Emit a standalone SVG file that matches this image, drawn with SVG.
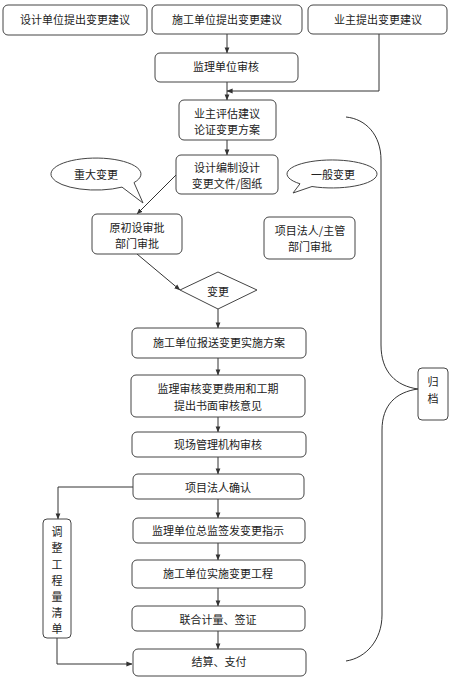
<svg xmlns="http://www.w3.org/2000/svg" width="451" height="680" viewBox="0 0 451 680">
<style>
.box{fill:#fff;stroke:#444;stroke-width:1}
.t{font-family:"Noto Sans CJK SC","Liberation Sans",sans-serif;font-size:11px;fill:#222;text-anchor:middle;dominant-baseline:central}
.ln{fill:none;stroke:#333;stroke-width:1}
</style>
<defs>
<marker id="ah" viewBox="0 0 8 8" refX="7.5" refY="4" markerWidth="6" markerHeight="6" orient="auto" markerUnits="userSpaceOnUse">
<path d="M0,0.8 L8,4 L0,7.2 z" fill="#333"/>
</marker>
</defs>
<rect width="451" height="680" fill="#fff"/>
<g id="connectors">
<line class="ln" x1="227" y1="34" x2="227" y2="53" marker-end="url(#ah)"/>
<polyline class="ln" points="379,34 379,91 227,91" marker-end="url(#ah)"/>
<line class="ln" x1="227" y1="82" x2="227" y2="100" marker-end="url(#ah)"/>
<line class="ln" x1="227" y1="140" x2="227" y2="155" marker-end="url(#ah)"/>
<line class="ln" x1="176" y1="175" x2="137" y2="214" marker-end="url(#ah)"/>
<line class="ln" x1="137" y1="254" x2="180" y2="290" marker-end="url(#ah)"/>
<line class="ln" x1="218" y1="309" x2="218" y2="328" marker-end="url(#ah)"/>
<line class="ln" x1="218" y1="358" x2="218" y2="375" marker-end="url(#ah)"/>
<line class="ln" x1="218" y1="417" x2="218" y2="432" marker-end="url(#ah)"/>
<line class="ln" x1="218" y1="457" x2="218" y2="474" marker-end="url(#ah)"/>
<line class="ln" x1="218" y1="499" x2="218" y2="518" marker-end="url(#ah)"/>
<line class="ln" x1="218" y1="543" x2="218" y2="560" marker-end="url(#ah)"/>
<line class="ln" x1="218" y1="588" x2="218" y2="606" marker-end="url(#ah)"/>
<line class="ln" x1="218" y1="631" x2="218" y2="649" marker-end="url(#ah)"/>
<polyline class="ln" points="133,487 58,487 58,519" marker-end="url(#ah)"/>
<polyline class="ln" points="57,638 57,664 132,664" marker-end="url(#ah)"/>
<path class="ln" d="M346,117 C366,119 381,135 381,160 L381,345 C381,372 396,386 418,389"/>
<path class="ln" d="M418,389 C396,392 382,405 382,430 L382,615 C382,640 366,658 346,661"/>
</g>
<g id="n1"><rect class="box" x="3" y="5" width="144" height="30" rx="5"/><text class="t" x="75" y="19">设计单位提出变更建议</text></g>
<g id="n2"><rect class="box" x="152" y="5" width="150" height="29" rx="5"/><text class="t" x="227" y="19">施工单位提出变更建议</text></g>
<g id="n3"><rect class="box" x="308" y="5" width="139" height="29" rx="5"/><text class="t" x="378" y="19">业主提出变更建议</text></g>
<g id="n4"><rect class="box" x="155" y="53" width="143" height="29" rx="5"/><text class="t" x="226" y="66">监理单位审核</text></g>
<g id="n5"><rect class="box" x="179" y="100" width="97" height="40" rx="5"/><text class="t" x="227" y="113">业主评估建议</text><text class="t" x="227" y="129">论证变更方案</text></g>
<g id="n6"><rect class="box" x="176" y="155" width="102" height="39" rx="5"/><text class="t" x="227" y="167">设计编制设计</text><text class="t" x="227" y="183">变更文件/图纸</text></g>
<g id="c1"><path class="box" d="M134,182.6 A45 16 0 1 0 122,187.1 L143,203 Z"/><text class="t" x="96" y="174">重大变更</text></g>
<g id="c2"><path class="box" d="M312,186.5 A45 14 0 1 0 300,183.8 L293,193 Z"/><text class="t" x="333" y="174">一般变更</text></g>
<g id="n7"><rect class="box" x="92" y="214" width="90" height="40" rx="5"/><text class="t" x="137" y="227">原初设审批</text><text class="t" x="137" y="243">部门审批</text></g>
<g id="n8"><rect class="box" x="264" y="217" width="91" height="42" rx="5"/><text class="t" x="310" y="230">项目法人/主管</text><text class="t" x="310" y="246">部门审批</text></g>
<g id="n9"><polygon class="box" points="180,290 218,272 257,290 218,309"/><text class="t" x="218" y="291">变更</text></g>
<g id="n10"><rect class="box" x="132" y="328" width="174" height="30" rx="5"/><text class="t" x="219" y="342">施工单位报送变更实施方案</text></g>
<g id="n11"><rect class="box" x="131" y="375" width="174" height="42" rx="5"/><text class="t" x="218" y="388">监理审核变更费用和工期</text><text class="t" x="218" y="405">提出书面审核意见</text></g>
<g id="n12"><rect class="box" x="132" y="432" width="174" height="25" rx="5"/><text class="t" x="218" y="444">现场管理机构审核</text></g>
<g id="n13"><rect class="box" x="133" y="474" width="171" height="25" rx="5"/><text class="t" x="218" y="487">项目法人确认</text></g>
<g id="n14"><rect class="box" x="133" y="518" width="172" height="25" rx="5"/><text class="t" x="218" y="530">监理单位总监签发变更指示</text></g>
<g id="n15"><rect class="box" x="132" y="560" width="173" height="28" rx="5"/><text class="t" x="218" y="573">施工单位实施变更工程</text></g>
<g id="n16"><rect class="box" x="132" y="606" width="173" height="25" rx="5"/><text class="t" x="218" y="619">联合计量、签证</text></g>
<g id="n17"><rect class="box" x="133" y="649" width="173" height="27" rx="5"/><text class="t" x="219" y="661">结算、支付</text></g>
<g id="n18"><rect class="box" x="43" y="519" width="28" height="119" rx="4"/>
<text class="t" x="57" y="531">调</text><text class="t" x="57" y="547">整</text><text class="t" x="57" y="564">工</text><text class="t" x="57" y="580">程</text><text class="t" x="57" y="596">量</text><text class="t" x="57" y="612">清</text><text class="t" x="57" y="628">单</text></g>
<g id="n19"><rect class="box" x="418" y="368" width="30" height="52" rx="4"/><text class="t" x="433" y="381">归</text><text class="t" x="433" y="398">档</text></g>
</svg>
